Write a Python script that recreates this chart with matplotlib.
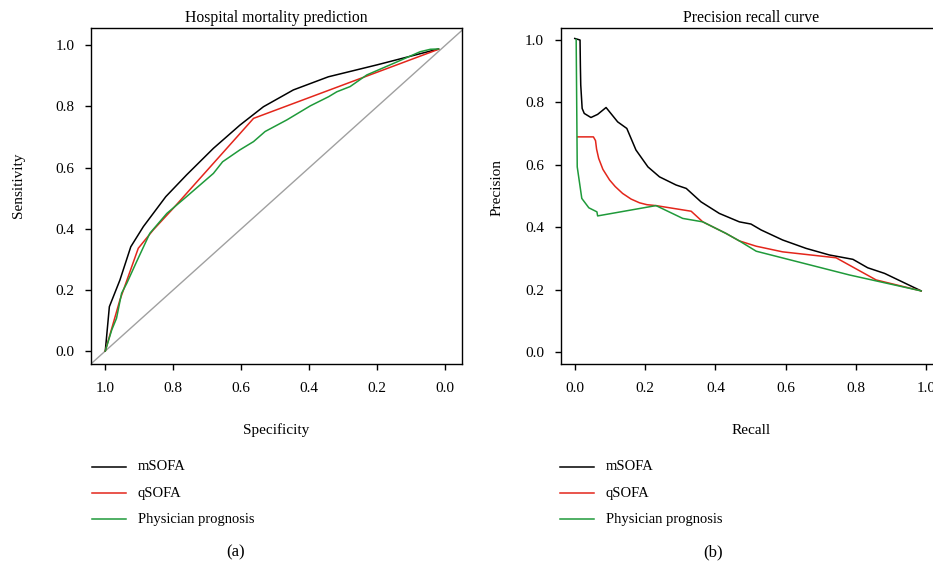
import matplotlib
matplotlib.use("Agg")
import matplotlib.pyplot as plt
from matplotlib.lines import Line2D

plt.rcParams['font.family'] = ['Liberation Serif', 'DejaVu Serif']

# ---- data ----
labels = ["mSOFA", "qSOFA", "Physician prognosis"]
colors = ["black", "#e3261b", "#1f9a3a"]

# ROC: specificity / sensitivity
roc_m_spec = [1.0, 0.988, 0.957, 0.925, 0.888, 0.822, 0.761, 0.682, 0.604, 0.535, 0.447, 0.344, 0.201, 0.020]
roc_m_sens = [0.0, 0.145, 0.232, 0.341, 0.407, 0.505, 0.576, 0.663, 0.739, 0.799, 0.854, 0.897, 0.936, 0.988]

roc_q_spec = [1.0, 0.957, 0.903, 0.859, 0.80, 0.564, 0.020]
roc_q_sens = [0.0, 0.167, 0.336, 0.396, 0.467, 0.761, 0.987]

roc_p_spec = [1.0, 0.981, 0.967, 0.952, 0.937, 0.908, 0.869, 0.819, 0.761, 0.682, 0.655, 0.604,
              0.564, 0.530, 0.466, 0.397, 0.343, 0.319, 0.280, 0.231, 0.152, 0.074, 0.044, 0.020]
roc_p_sens = [0.0, 0.069, 0.107, 0.189, 0.221, 0.292, 0.385, 0.45, 0.505, 0.581, 0.619, 0.658,
              0.685, 0.718, 0.756, 0.802, 0.832, 0.848, 0.865, 0.903, 0.941, 0.979, 0.987, 0.988]

# Precision-recall
pr_m_rec = [0.000, 0.015, 0.016, 0.017, 0.021, 0.027, 0.046, 0.065, 0.089, 0.122, 0.148, 0.174, 0.208,
            0.241, 0.288, 0.317, 0.359, 0.411, 0.468, 0.501, 0.530, 0.591, 0.658, 0.724, 0.791,
            0.833, 0.881, 0.985]
pr_m_prec = [1.004, 0.999, 0.914, 0.855, 0.780, 0.764, 0.751, 0.761, 0.783, 0.737, 0.716, 0.647, 0.593,
             0.561, 0.535, 0.524, 0.481, 0.444, 0.417, 0.410, 0.391, 0.359, 0.332, 0.311, 0.297,
             0.270, 0.252, 0.196]

pr_q_rec = [0.0085, 0.053, 0.059, 0.062, 0.068, 0.080, 0.099, 0.115, 0.136, 0.160, 0.184, 0.205,
            0.231, 0.331, 0.364, 0.430, 0.468, 0.516, 0.591, 0.743, 0.857, 0.985]
pr_q_prec = [0.689, 0.689, 0.677, 0.650, 0.620, 0.585, 0.551, 0.530, 0.508, 0.490, 0.478, 0.472,
             0.469, 0.451, 0.417, 0.380, 0.356, 0.339, 0.321, 0.302, 0.231, 0.196]

pr_p_rec = [0.004, 0.007, 0.020, 0.040, 0.063, 0.065, 0.231, 0.307, 0.364, 0.430, 0.468, 0.516,
            0.781, 0.857, 0.985]
pr_p_prec = [1.001, 0.593, 0.492, 0.462, 0.449, 0.436, 0.469, 0.428, 0.417, 0.380, 0.356, 0.323,
             0.247, 0.228, 0.196]

ticks = [0.0, 0.2, 0.4, 0.6, 0.8, 1.0]
ticklabels = ["0.0", "0.2", "0.4", "0.6", "0.8", "1.0"]

W, H = 933, 567
fig = plt.figure(figsize=(W / 100, H / 100), dpi=100)


def px_axes(left, top, right, bottom):
    return fig.add_axes([left / W, 1 - bottom / H, (right - left) / W, (bottom - top) / H])


def style(ax):
    for s in ax.spines.values():
        s.set_linewidth(1.0)
    ax.set_xticks(ticks)
    ax.set_xticklabels(ticklabels)
    ax.set_yticks(ticks)
    ax.set_yticklabels(ticklabels)
    ax.tick_params(axis='both', direction='out', length=4, width=1.0, labelsize=11)
    ax.tick_params(axis='x', pad=9)
    ax.tick_params(axis='y', pad=8)


# (a) ROC
ax1 = px_axes(91, 28, 462, 364)
ax1.axline((1.0, 0.0), (0.0, 1.0), color="#a0a0a0", lw=1.0)
ax1.plot(roc_m_spec, roc_m_sens, color=colors[0], lw=1.1)
ax1.plot(roc_q_spec, roc_q_sens, color=colors[1], lw=1.1)
ax1.plot(roc_p_spec, roc_p_sens, color=colors[2], lw=1.1)
ax1.set_xlim(1.042, -0.049)
ax1.set_ylim(-0.0425, 1.0566)
style(ax1)
ax1.set_title("Hospital mortality prediction", fontsize=11.3, pad=4)
ax1.set_xlabel("Specificity", fontsize=11, va='center')
ax1.xaxis.set_label_coords(0.5, (364 - 430) / 336)
ax1.set_ylabel("Sensitivity", fontsize=11, va='center')
ax1.yaxis.set_label_coords((18 - 91) / 371, (364 - 185) / 336)

# (b) precision recall
ax2 = px_axes(560.7, 28, 940.5, 364)
ax2.plot(pr_m_rec, pr_m_prec, color=colors[0], lw=1.1)
ax2.plot(pr_q_rec, pr_q_prec, color=colors[1], lw=1.1)
ax2.plot(pr_p_rec, pr_p_prec, color=colors[2], lw=1.1)
ax2.set_xlim(-0.04, 1.04)
ax2.set_ylim(-0.038, 1.0375)
style(ax2)
ax2.set_title("Precision recall curve", fontsize=11.3, pad=4)
ax2.set_xlabel("Recall", fontsize=11, va='center')
ax2.xaxis.set_label_coords(0.5, (364 - 430) / 336)
ax2.set_ylabel("Precision", fontsize=11, va='center')
ax2.yaxis.set_label_coords((497 - 560.7) / 379.8, (364 - 188) / 336)

# legends under each panel
for x0 in (92, 560):
    for i, (lab, col) in enumerate(zip(labels, colors)):
        y = 467 + 26 * i
        fig.add_artist(Line2D([x0 / W, (x0 + 34) / W], [1 - y / H, 1 - y / H],
                              color=col, lw=1.1, transform=fig.transFigure))
        fig.text((x0 + 46) / W, 1 - y / H, lab, fontsize=10.5, va='center', ha='left')

fig.text(236 / W, 1 - 552 / H, "(a)", fontsize=12, ha='center', va='center')
fig.text(713 / W, 1 - 552 / H, "(b)", fontsize=12, ha='center', va='center')

fig.savefig("out.png", dpi=100)
